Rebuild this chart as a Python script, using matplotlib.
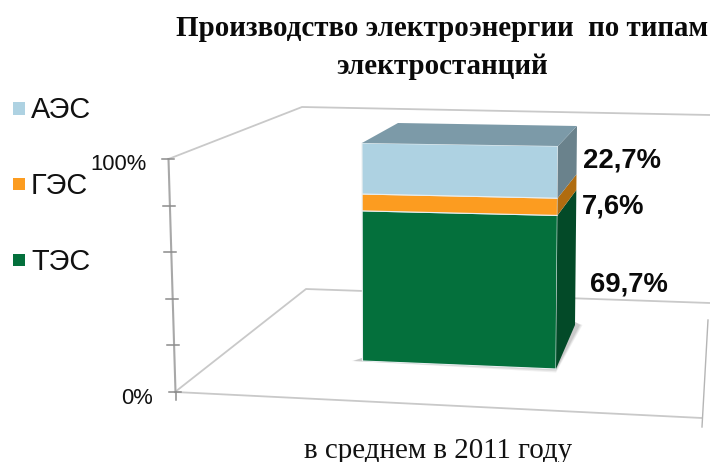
import matplotlib
matplotlib.use("Agg")
import matplotlib.pyplot as plt
from matplotlib.patches import Polygon, Rectangle

title = "Производство электроэнергии  по типам\nэлектростанций"
xlabel = "в среднем в 2011 году"
series = ["ТЭС", "ГЭС", "АЭС"]
values = [69.7, 7.6, 22.7]
labels = ["69,7%", "7,6%", "22,7%"]
front_colors = ["#04703C", "#FC9C20", "#AED2E2"]
side_colors = ["#034A28", "#B06C10", "#6A828C"]
top_color = "#7C9AA8"
ticks = [0, 20, 40, 60, 80, 100]
tick_labels = {0: "0%", 100: "100%"}

fig = plt.figure(figsize=(7.10, 4.62), dpi=100)
ax = fig.add_axes([0, 0, 1, 1])
ax.set_xlim(0, 710)
ax.set_ylim(462, 0)
ax.axis("off")

SERIF = "Liberation Serif"
SANS = "Liberation Sans"


def lerp(a, b, t):
    return a + (b - a) * t


def persp(v, k):
    # perspective foreshortening of the value scale along a vertical edge
    t = v / 100
    return t / (t + (1 - t) * k)


def fl(v):
    t = persp(v, 1.04)
    return (lerp(362.5, 362, t), lerp(361, 143, t))


def fr(v):
    t = persp(v, 1.04)
    return (lerp(556, 558, t), lerp(369, 146, t))


def br(v):
    t = persp(v, 1.09)
    return (lerp(575, 577, t), lerp(325, 126, t))


def axis_pt(v):
    t = v / 100
    return (lerp(175.5, 168.5, t), lerp(392, 159, t))


wall = "#C9C9C9"
ax.plot([175, 306, 710], [392, 289, 303], color=wall, lw=1.3, zorder=1)
ax.plot([168.5, 302, 710], [159, 107, 115], color=wall, lw=1.3, zorder=1)
ax.plot([175, 702], [392, 418], color=wall, lw=1.3, zorder=1)
ax.plot([708, 702], [320, 427], color="#B5B5B5", lw=1.0, zorder=1)

# axis and ticks
p0, p1 = axis_pt(0), axis_pt(100)
ax.plot([p0[0], p1[0]], [p0[1], p1[1]], color="#A8A8A8", lw=1.5, zorder=2)
for t in ticks:
    x, y = axis_pt(t)
    ax.plot([x - 7, x + 5], [y, y], color="#8C8C8C", lw=1.1, zorder=2)
ax.plot([p0[0] + 0.5, p0[0] + 0.5], [p0[1], p0[1] + 8], color="#8C8C8C", lw=1.1, zorder=2)
ax.text(147, 164, tick_labels[100], ha="right", va="center", fontsize=15.8,
        family=SANS, color="#111111")
ax.text(153, 399, tick_labels[0], ha="right", va="center", fontsize=15.8,
        family=SANS, color="#111111")

# soft bar shadow
for grow, a in [(2.5, 0.18), (1.2, 0.25), (0, 0.35)]:
    ax.add_patch(Polygon([(354 - grow, 361), (556, 370 + grow), (580 + grow, 325),
                          (575, 322), (556, 366), (362, 358)],
                         closed=True, fc="#A8A8A8", ec="none", alpha=a, zorder=2))

# stacked bar
base = 0
for val, fc, sc in zip(values, front_colors, side_colors):
    top = base + val
    ax.add_patch(Polygon([fl(base), fr(base), fr(top), fl(top)], closed=True,
                         fc=fc, ec="#E8EEF0", lw=0.8, zorder=3))
    ax.add_patch(Polygon([fr(base), br(base), br(top), fr(top)], closed=True,
                         fc=sc, ec="none", zorder=3))
    base = top
back_left = (398, 123)
ax.add_patch(Polygon([fl(100), fr(100), br(100), back_left], closed=True,
                     fc=top_color, ec="none", zorder=3))

# data labels
label_pos = [(628.5, 285), (613, 207), (622.5, 161)]
for (x, y), s in zip(label_pos, labels):
    ax.text(x, y, s, ha="center", va="center", fontsize=19.8, fontweight="bold",
            family=SANS, color="#0A0A0A", zorder=4)

# legend
leg_y = [260, 184, 108.5]
for name, c, y in zip(series, front_colors, leg_y):
    ax.add_patch(Rectangle((12.5, y - 6.5), 12.5, 12.5, fc=c, ec="none"))
    ax.text(31, y + 2, name, ha="left", va="center", fontsize=20.8, family=SANS, color="#111111")

ax.text(442, 47.5, title, ha="center", va="center", fontsize=20.9, fontweight="bold",
        family=SERIF, color="#0A0A0A", linespacing=1.5)
ax.text(438, 450.5, xlabel, ha="center", va="center", fontsize=20.9, family=SERIF,
        color="#111111")

fig.savefig("out.png", dpi=100)
